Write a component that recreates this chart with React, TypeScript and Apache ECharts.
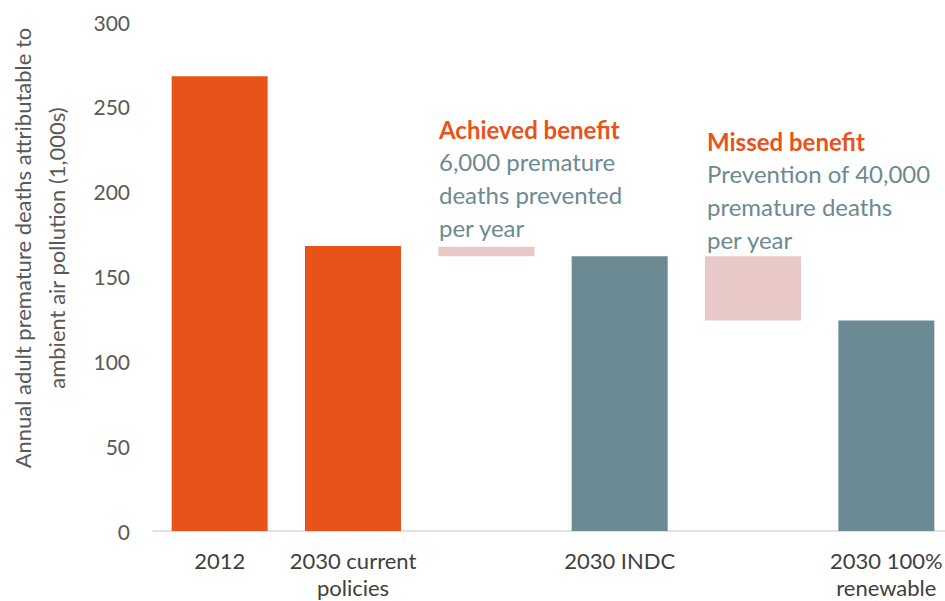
import React, { useEffect, useRef } from "react";
import * as echarts from "echarts";

const categories = ["2012", "2030 current\npolicies", "", "2030 INDC", "", "2030 100%\nrenewable"];
const scenarioValues: (number | null)[] = [268, 168, null, 162, null, 124];
const scenarioColors = ["#E8531A", "#E8531A", "#E8531A", "#6C8A93", "#6C8A93", "#6C8A93"];
const benefitLow: (number | null)[] = [null, null, 162, null, 124, null];
const benefitHigh: (number | null)[] = [null, null, 167.5, null, 162, null];
const yTicks = { min: 0, max: 300, interval: 50 };

const FONT = "Lato";
const ORANGE = "#E8531A";
const TEAL = "#6C8A93";
const PINK = "#E8C9C7";

export default function App() {
  const ref = useRef<HTMLDivElement>(null);
  useEffect(() => {
    if (!ref.current) return;
    const chart = echarts.init(ref.current, null, { renderer: "svg" });
    const base = benefitLow.map((v) => (v == null ? "-" : v));
    const diff = benefitLow.map((v, i) => (v == null || benefitHigh[i] == null ? "-" : (benefitHigh[i] as number) - v));
    const main = scenarioValues.map((v, i) =>
      v == null ? "-" : { value: v, itemStyle: { color: scenarioColors[i] } }
    );
    chart.setOption({
      animation: false,
      textStyle: { fontFamily: FONT },
      grid: { left: 153, top: 22, bottom: 70, width: 800, containLabel: false, outerBoundsMode: "none" },
      xAxis: {
        type: "category",
        data: categories,
        axisLine: { lineStyle: { color: "#D9D9D9", width: 1.5 } },
        axisTick: { show: false },
        axisLabel: {
          color: "#404040",
          fontSize: 22,
          fontFamily: FONT,
          margin: 16,
          lineHeight: 27,
          interval: 0,
        },
      },
      yAxis: {
        type: "value",
        min: yTicks.min,
        max: yTicks.max,
        interval: yTicks.interval,
        splitLine: { show: false },
        axisLine: { show: false },
        axisTick: { show: false },
        axisLabel: { color: "#595959", fontSize: 21, fontFamily: FONT, margin: 23 },
      },
      series: [
        {
          type: "bar",
          stack: "s",
          barWidth: 96,
          data: main,
        },
        {
          type: "bar",
          stack: "s",
          barWidth: 96,
          itemStyle: { color: "transparent" },
          data: base,
        },
        {
          type: "bar",
          stack: "s",
          barWidth: 96,
          itemStyle: { color: PINK },
          data: diff,
        },
      ],
      graphic: [
        {
          type: "text",
          x: 39,
          y: 248,
          rotation: Math.PI / 2,
          z: 100,
          style: {
            text: "Annual adult premature deaths attributable to\nambient air pollution (1,000s)",
            fontFamily: FONT,
            fontSize: 22,
            lineHeight: 34,
            fill: "#595959",
            align: "center",
            verticalAlign: "middle",
          },
        },
        {
          type: "text",
          x: 439,
          y: 129,
          z: 100,
          style: {
            text: "Achieved benefit",
            fontFamily: FONT,
            fontSize: 24,
            fontWeight: "bold",
            fill: ORANGE,
            verticalAlign: "middle",
          },
        },
        {
          type: "text",
          x: 439,
          y: 145,
          z: 100,
          style: {
            text: "6,000 premature\ndeaths prevented\nper year",
            fontFamily: FONT,
            fontSize: 24,
            lineHeight: 33,
            fill: TEAL,
            verticalAlign: "top",
          },
        },
        {
          type: "text",
          x: 707,
          y: 141,
          z: 100,
          style: {
            text: "Missed benefit",
            fontFamily: FONT,
            fontSize: 24,
            fontWeight: "bold",
            fill: ORANGE,
            verticalAlign: "middle",
          },
        },
        {
          type: "text",
          x: 707,
          y: 157,
          z: 100,
          style: {
            text: "Prevention of 40,000\npremature deaths\nper year",
            fontFamily: FONT,
            fontSize: 24,
            lineHeight: 33,
            fill: TEAL,
            verticalAlign: "top",
          },
        },
      ],
    });
    return () => chart.dispose();
  }, []);
  return <div ref={ref} style={{ width: 945, height: 601, position: "absolute", left: 0, top: 0 }} />;
}
